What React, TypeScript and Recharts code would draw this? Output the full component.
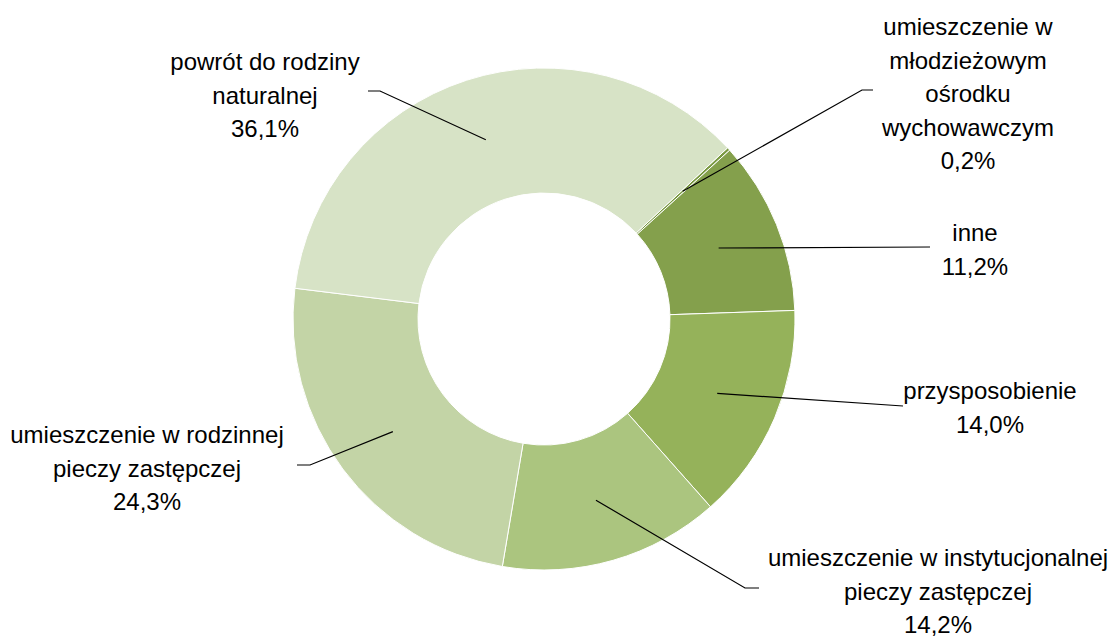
import { PieChart, Pie, Cell } from 'recharts';

// kolejność zgodnie z ruchem wskazówek zegara, od wycinka 0,2%
const categories = [
  'umieszczenie w młodzieżowym ośrodku wychowawczym',
  'inne',
  'przysposobienie',
  'umieszczenie w instytucjonalnej pieczy zastępczej',
  'umieszczenie w rodzinnej pieczy zastępczej',
  'powrót do rodziny naturalnej',
];
const shares = [0.2, 11.2, 14.0, 14.2, 24.3, 36.1];
const labelLines = [
  ['umieszczenie w', 'młodzieżowym', 'ośrodku', 'wychowawczym'],
  ['inne'],
  ['przysposobienie'],
  ['umieszczenie w instytucjonalnej', 'pieczy zastępczej'],
  ['umieszczenie w rodzinnej', 'pieczy zastępczej'],
  ['powrót do rodziny', 'naturalnej'],
];

const colors = ['#7a9a42', '#84a04c', '#95b25a', '#abc57f', '#c3d4a6', '#d7e3c6'];

// rozmieszczenie etykiet (łamana linia odniesienia + środek tekstu)
const labelLayout = [
  { elbow: [862, 90], end: [873, 90], tx: 968, ty: 27 },
  { elbow: [930, 247], end: [930, 247], tx: 975, ty: 233 },
  { elbow: [903, 406], end: [903, 406], tx: 990, ty: 391 },
  { elbow: [745, 588], end: [759, 588], tx: 938, ty: 558 },
  { elbow: [310, 465], end: [297, 465], tx: 147, ty: 435 },
  { elbow: [380, 91], end: [368, 91], tx: 265, ty: 62 },
];

const data = categories.map((name, i) => ({ name, value: shares[i] }));

const RAD = Math.PI / 180;
const LINE_H = 33.5;

const renderLabel = (props: any) => {
  const { cx, cy, midAngle, innerRadius, outerRadius, index, value } = props;
  const r = (innerRadius + outerRadius) / 2;
  const sx = cx + r * Math.cos(-midAngle * RAD);
  const sy = cy + r * Math.sin(-midAngle * RAD);
  const lay = labelLayout[index];
  const lines = [...labelLines[index], value.toFixed(1).replace('.', ',') + '%'];
  return (
    <g key={'lbl' + index}>
      <polyline
        points={`${sx},${sy} ${lay.elbow[0]},${lay.elbow[1]} ${lay.end[0]},${lay.end[1]}`}
        fill="none"
        stroke="#000"
        strokeWidth={1.2}
      />
      {lines.map((t, j) => (
        <text
          key={j}
          x={lay.tx}
          y={lay.ty + j * LINE_H + 8}
          textAnchor="middle"
          fontSize={24}
          fontFamily="'Liberation Sans', Arial, sans-serif"
          fill="#000"
        >
          {t}
        </text>
      ))}
    </g>
  );
};

export default function App() {
  return (
    <div style={{ position: 'absolute', left: 0, top: 0, width: 1115, height: 637, background: '#fff' }}>
      <PieChart width={1115} height={637} margin={{ top: 0, right: 0, bottom: 0, left: 0 }}>
        <Pie
          data={data}
          dataKey="value"
          nameKey="name"
          cx={544}
          cy={319}
          innerRadius={126}
          outerRadius={251}
          startAngle={43}
          endAngle={-317}
          stroke="#ffffff"
          strokeWidth={1}
          label={renderLabel}
          labelLine={false}
          isAnimationActive={false}
        >
          {data.map((d, i) => (
            <Cell key={d.name} fill={colors[i]} />
          ))}
        </Pie>
      </PieChart>
    </div>
  );
}
